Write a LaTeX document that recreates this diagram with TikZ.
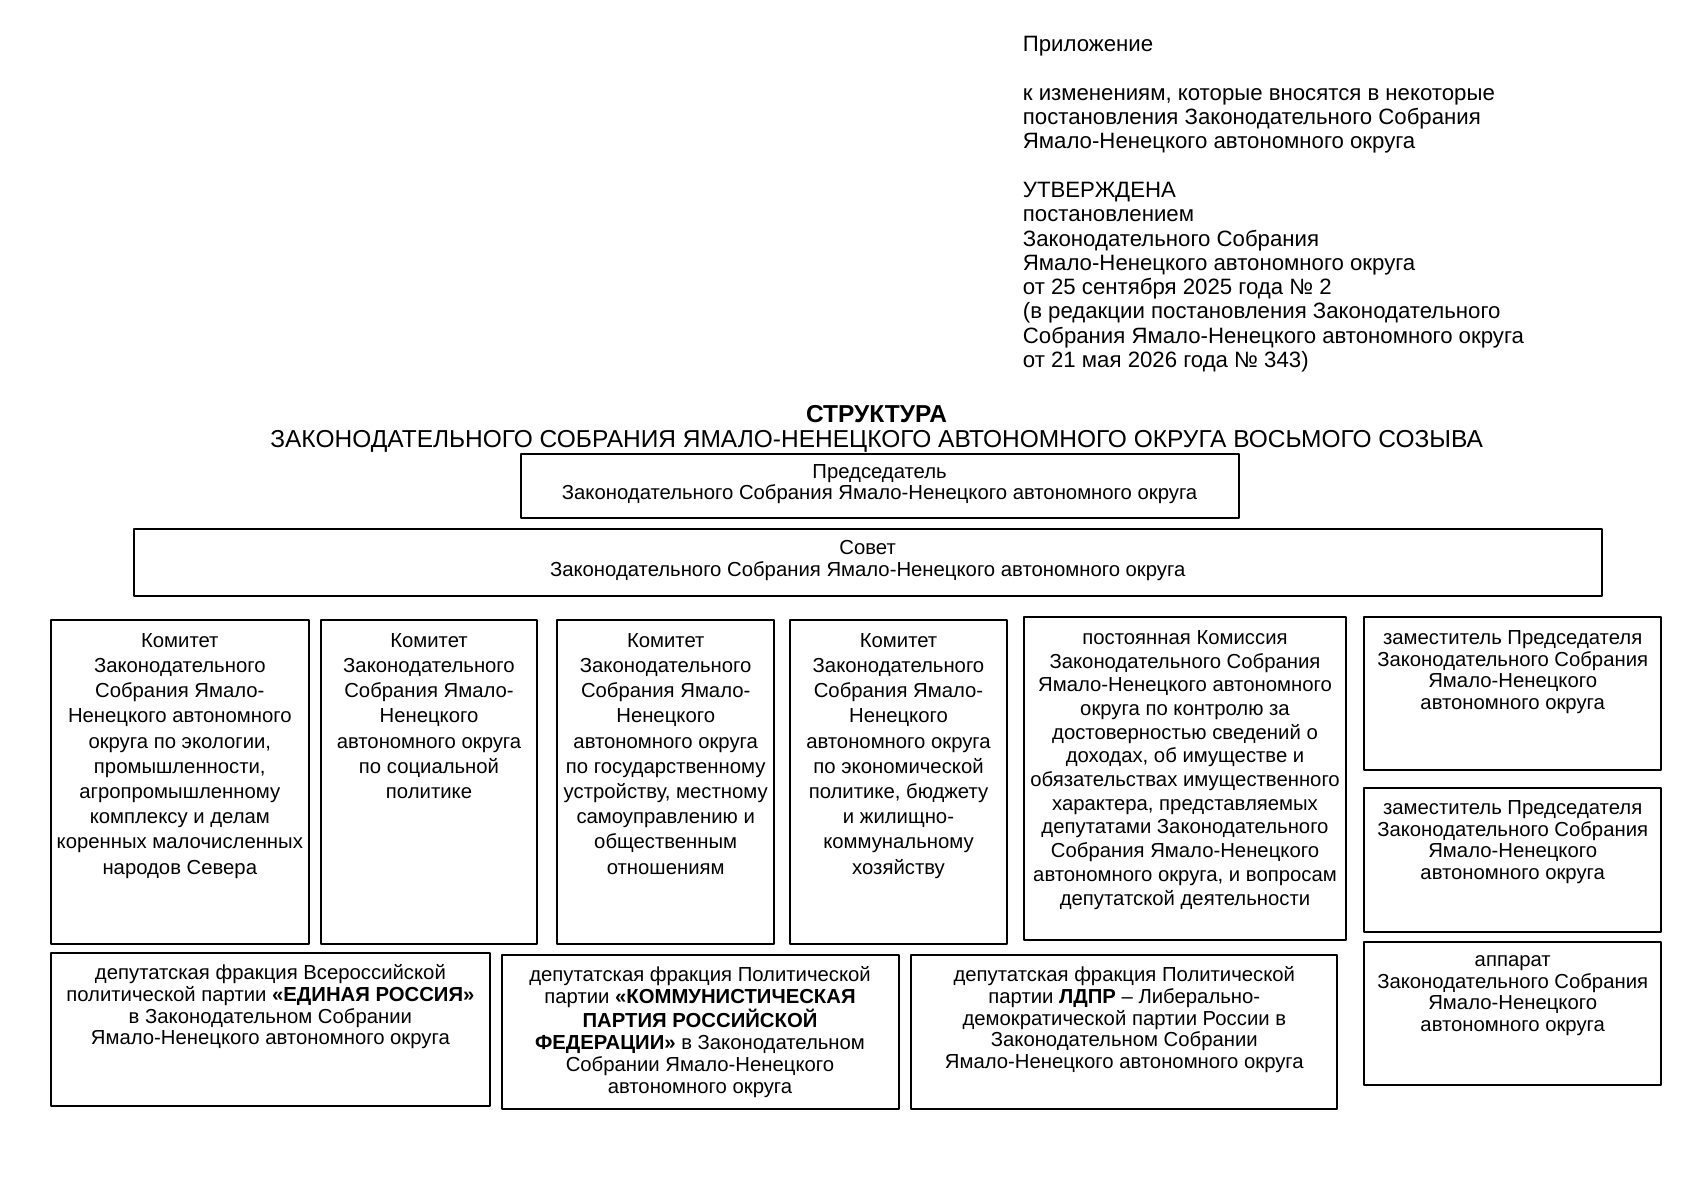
\documentclass[tikz,border=0pt]{standalone}
\usepackage{fontspec}
\setmainfont{Liberation Sans}
\begin{document}
\begin{tikzpicture}[x=0.5pt, y=-0.5pt, line join=round, font=\fontsize{10.15}{10.9}\selectfont,
  box/.style={draw=black, line width=1pt},
  txt/.style={anchor=north, align=center, inner sep=0pt},
  komtxt/.style={txt, font=\fontsize{10.15}{12.6}\selectfont}]
\useasboundingbox (0,0) rectangle (1697,1200);
% шапка
\node[anchor=north west, align=left, inner sep=0pt, font=\fontsize{11.1}{12.15}\selectfont] (pril) at (1022.5,36)
  {Приложение\\[12.15pt]
   к изменениям, которые вносятся в некоторые\\
   постановления Законодательного Собрания\\
   Ямало-Ненецкого автономного округа\\[12.15pt]
   УТВЕРЖДЕНА\\
   постановлением\\
   Законодательного Собрания\\
   Ямало-Ненецкого автономного округа\\
   от 25 сентября 2025 года № 2\\
   (в редакции постановления Законодательного\\
   Собрания Ямало-Ненецкого автономного округа\\
   от 21 мая 2026 года № 343)};
\node[txt, font=\fontsize{12.25}{12.5}\selectfont] (title) at (876.6,404.8)
  {\textbf{СТРУКТУРА}\\ЗАКОНОДАТЕЛЬНОГО СОБРАНИЯ ЯМАЛО-НЕНЕЦКОГО АВТОНОМНОГО ОКРУГА ВОСЬМОГО СОЗЫВА};
% председатель и совет
\draw[box] (520.5,453.5) rectangle (1238.7,517.5);
\node[txt, font=\fontsize{10.15}{10.4}\selectfont] (pred) at (879.6,464)
  {Председатель\\Законодательного Собрания Ямало-Ненецкого автономного округа};
\draw[box] (133.6,528.5) rectangle (1601.7,595.5);
\node[txt] (sovet) at (867.7,540)
  {Совет\\Законодательного Собрания Ямало-Ненецкого автономного округа};
% комитеты
\draw[box] (51,620) rectangle (308.6,944);
\node[komtxt] (kom1) at (179.8,633)
  {Комитет\\Законодательного\\Собрания Ямало-\\Ненецкого автономного\\округа по экологии,\\промышленности,\\агропромышленному\\комплексу и делам\\коренных малочисленных\\народов Севера};
\draw[box] (320.6,620) rectangle (537.4,944);
\node[komtxt] (kom2) at (429,633)
  {Комитет\\Законодательного\\Собрания Ямало-\\Ненецкого\\автономного округа\\по социальной\\политике};
\draw[box] (557.3,620) rectangle (774.1,944);
\node[komtxt] (kom3) at (665.7,633)
  {Комитет\\Законодательного\\Собрания Ямало-\\Ненецкого\\автономного округа\\по государственному\\устройству, местному\\самоуправлению и\\общественным\\отношениям};
\draw[box] (790.1,620) rectangle (1006.9,944);
\node[komtxt] (kom4) at (898.5,633)
  {Комитет\\Законодательного\\Собрания Ямало-\\Ненецкого\\автономного округа\\по экономической\\политике, бюджету\\и жилищно-\\коммунальному\\хозяйству};
\draw[box] (1023.8,617) rectangle (1346.1,939.5);
\node[txt, font=\fontsize{10.15}{11.85}\selectfont] (komis) at (1185,630)
  {постоянная Комиссия\\Законодательного Собрания\\Ямало-Ненецкого автономного\\округа по контролю за\\достоверностью сведений о\\доходах, об имуществе и\\обязательствах имущественного\\характера, представляемых\\депутатами Законодательного\\Собрания Ямало-Ненецкого\\автономного округа, и вопросам\\депутатской деятельности};
% заместители и аппарат
\draw[box] (1364,617) rectangle (1661.4,769.5);
\node[txt] (zam1) at (1512.7,630)
  {заместитель Председателя\\Законодательного Собрания\\Ямало-Ненецкого\\автономного округа};
\draw[box] (1364,788) rectangle (1661.4,932);
\node[txt] (zam2) at (1512.7,800)
  {заместитель Председателя\\Законодательного Собрания\\Ямало-Ненецкого\\автономного округа};
\draw[box] (1364,941.5) rectangle (1661.4,1084.5);
\node[txt] (apparat) at (1512.7,955)
  {аппарат\\Законодательного Собрания\\Ямало-Ненецкого\\автономного округа};
% фракции
\draw[box] (51,952.5) rectangle (489.7,1105.5);
\node[txt] (er) at (270.4,964)
  {депутатская фракция Всероссийской\\политической партии \textbf{«ЕДИНАЯ РОССИЯ»}\\в Законодательном Собрании\\Ямало-Ненецкого автономного округа};
\draw[box] (501.6,954.5) rectangle (898.5,1108.5);
\node[txt] (kprf) at (700,966)
  {депутатская фракция Политической\\партии \textbf{«КОММУНИСТИЧЕСКАЯ}\\\textbf{ПАРТИЯ РОССИЙСКОЙ}\\\textbf{ФЕДЕРАЦИИ»} в Законодательном\\Собрании Ямало-Ненецкого\\автономного округа};
\draw[box] (911.4,954.5) rectangle (1337.1,1108.5);
\node[txt] (ldpr) at (1124.3,966)
  {депутатская фракция Политической\\партии \textbf{ЛДПР} – Либерально-\\демократической партии России в\\Законодательном Собрании\\Ямало-Ненецкого автономного округа};
\end{tikzpicture}
\end{document}
